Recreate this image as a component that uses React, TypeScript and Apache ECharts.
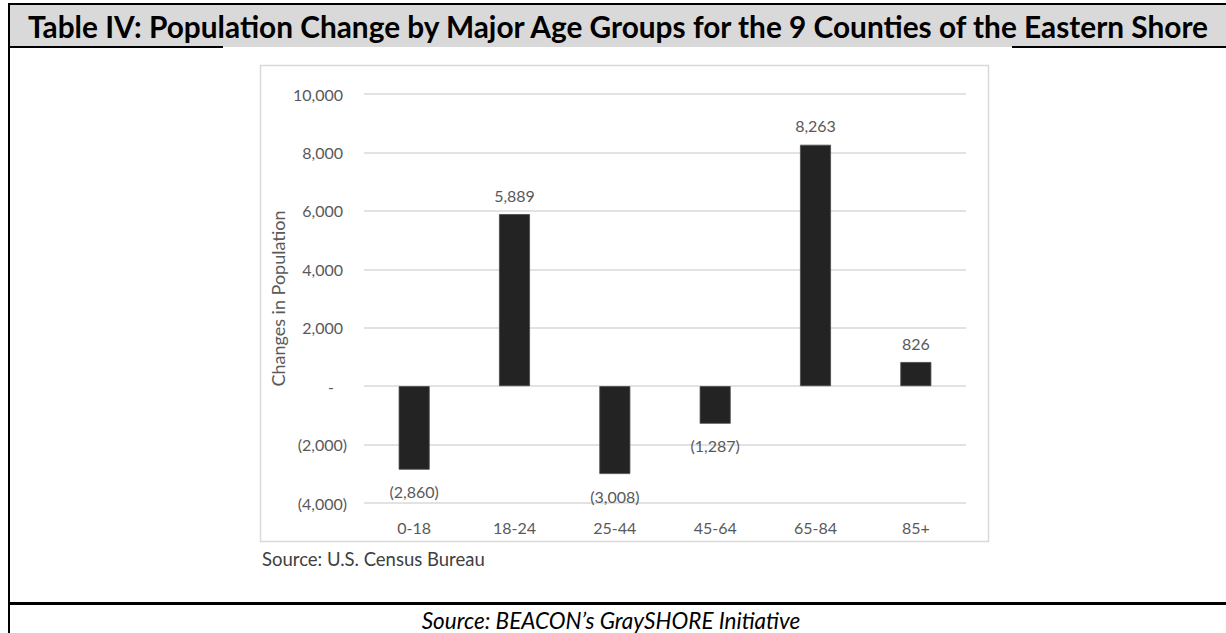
import React, { useEffect, useRef } from "react";
import * as echarts from "echarts";

const categories = ["0-18", "18-24", "25-44", "45-64", "65-84", "85+"];
const changes = [-2860, 5889, -3008, -1287, 8263, 826];
const yTicks = { min: -4000, max: 10000, interval: 2000 };

const titleText = "Table IV: Population Change by Major Age Groups for the 9 Counties of the Eastern Shore";
const yAxisName = "Changes in Population";
const chartSource = "Source: U.S. Census Bureau";
const footerText = "Source: BEACON\u2019s GraySHORE Initiative";

const FONT = "Lato";
const GRAY = "#595959";

function fmt(v: number): string {
  const s = Math.abs(v).toLocaleString("en-US");
  return v < 0 ? `(${s})` : s;
}

export default function App() {
  const ref = useRef<HTMLDivElement>(null);
  useEffect(() => {
    if (!ref.current) return;
    const chart = echarts.init(ref.current, null, { renderer: "svg" });
    chart.setOption({
      animation: false,
      backgroundColor: "#ffffff",
      grid: { left: 364, right: 1226 - 966, top: 94, bottom: 633 - 503, containLabel: false },
      xAxis: {
        type: "category",
        data: categories,
        axisLine: { show: false },
        axisTick: { show: false },
        axisLabel: { color: GRAY, fontFamily: FONT, fontSize: 16, margin: 16 },
      },
      yAxis: {
        type: "value",
        min: yTicks.min,
        max: yTicks.max,
        interval: yTicks.interval,
        name: yAxisName,
        nameLocation: "middle",
        nameGap: 77,
        nameTextStyle: { color: GRAY, fontFamily: FONT, fontSize: 18 },
        axisLine: { show: false },
        axisTick: { show: false },
        splitLine: { lineStyle: { color: "#d9d9d9", width: 1.5 } },
        axisLabel: {
          margin: 17,
          color: GRAY,
          fontFamily: FONT,
          fontSize: 16,
          formatter: (v: number) => {
            if (v === 0) return "{z|-}";
            if (v > 0) return `{p|${fmt(v)}}`;
            return fmt(v);
          },
          rich: {
            p: { color: GRAY, fontFamily: FONT, fontSize: 16, padding: [0, 4, 0, 0] },
            z: { color: GRAY, fontFamily: FONT, fontSize: 16, padding: [0, 13, 0, 0] },
          },
        },
      },
      series: [
        {
          type: "bar",
          barWidth: 31,
          itemStyle: { color: "#232323", borderColor: "#4a4a4a", borderWidth: 0.8 },
          data: changes.map((v) => ({
            value: v,
            label: { position: v < 0 ? "bottom" : "top", distance: v < 0 ? 14 : 11 },
          })),
          label: {
            show: true,
            color: GRAY,
            fontFamily: FONT,
            fontSize: 16,
            formatter: (p: any) => fmt(p.value),
          },
        },
      ],
      graphic: [
        { type: "rect", z: -10, shape: { x: 8, y: 4, width: 1218, height: 43 }, style: { fill: "#d9d9d9" } },
        { type: "line", shape: { x1: 8, y1: 4, x2: 1226, y2: 4 }, style: { stroke: "#000", lineWidth: 2 } },
        { type: "line", shape: { x1: 9, y1: 3, x2: 9, y2: 633 }, style: { stroke: "#000", lineWidth: 2 } },
        { type: "line", shape: { x1: 8, y1: 47, x2: 223, y2: 47 }, style: { stroke: "#000", lineWidth: 2 } },
        { type: "line", shape: { x1: 1012, y1: 47, x2: 1226, y2: 47 }, style: { stroke: "#000", lineWidth: 2 } },
        { type: "line", shape: { x1: 8, y1: 603.5, x2: 1226, y2: 603.5 }, style: { stroke: "#000", lineWidth: 3 } },
        {
          type: "rect",
          z: -10,
          shape: { x: 260.5, y: 65.5, width: 728, height: 476 },
          style: { fill: "none", stroke: "#d9d9d9", lineWidth: 1.5 },
        },
        {
          type: "text",
          x: 618,
          y: 26,
          style: {
            text: titleText,
            fill: "#000",
            font: `bold 29.8px ${FONT}`,
            align: "center",
            verticalAlign: "middle",
          },
        },
        {
          type: "text",
          x: 262,
          y: 559,
          style: {
            text: chartSource,
            fill: "#404040",
            font: `18.5px ${FONT}`,
            align: "left",
            verticalAlign: "middle",
          },
        },
        {
          type: "text",
          x: 611,
          y: 620,
          style: {
            text: footerText,
            fill: "#000",
            font: `italic 22.5px ${FONT}`,
            align: "center",
            verticalAlign: "middle",
          },
        },
      ],
    });
    return () => chart.dispose();
  }, []);
  return (
    <div
      ref={ref}
      style={{ position: "absolute", left: 0, top: 0, width: 1226, height: 633, background: "#fff" }}
    />
  );
}
